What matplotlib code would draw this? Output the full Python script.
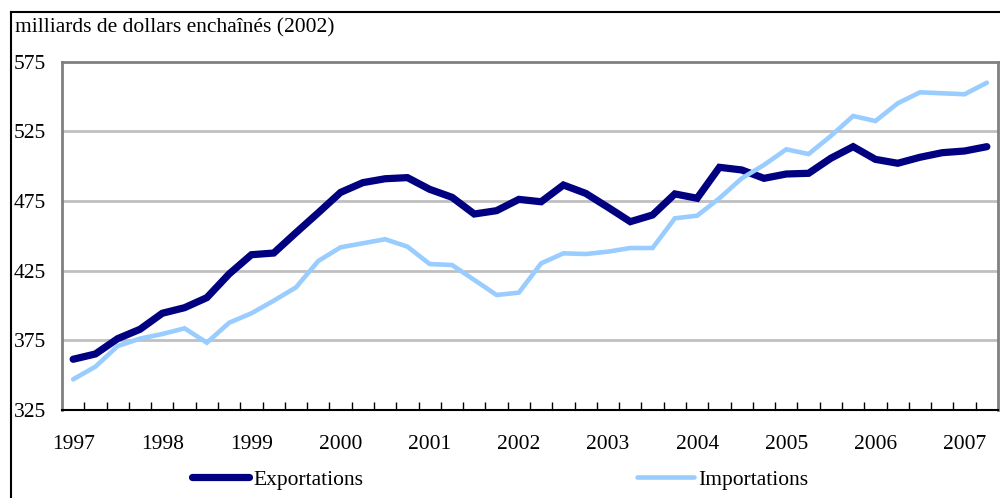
import numpy as np
import matplotlib
matplotlib.use("Agg")
import matplotlib.pyplot as plt
from matplotlib.lines import Line2D

plt.rcParams['font.family'] = ['Liberation Serif', 'DejaVu Serif']

# quarterly data, 1997Q1 - 2007Q2
years = list(range(1997, 2008))
exportations = [361.4, 365.2, 376.2, 382.9, 394.4, 398.4, 405.6, 422.6, 436.4, 437.6,
                452.2, 466.5, 481.1, 488.1, 490.9, 491.7, 483.3, 477.6, 465.6, 468.0,
                476.1, 474.4, 486.4, 480.4, 470.4, 460.1, 464.9, 480.0, 476.9, 499.1,
                497.2, 491.2, 494.3, 494.8, 505.6, 513.9, 504.8, 502.0, 506.3, 509.6,
                510.8, 513.9]
importations = [347.0, 356.1, 370.9, 376.2, 379.5, 383.6, 373.3, 387.6, 394.4, 403.4,
                413.0, 431.9, 441.7, 444.6, 447.5, 442.2, 429.7, 429.0, 418.3, 407.5,
                409.2, 430.2, 437.4, 436.9, 438.6, 441.2, 441.2, 462.5, 464.4, 476.9,
                491.2, 500.8, 512.0, 508.6, 521.6, 535.9, 532.3, 545.0, 552.9, 552.2,
                551.5, 559.8]
yticks = [325, 375, 425, 475, 525, 575]

fs = 15.5
x = np.arange(len(exportations))

fig = plt.figure(figsize=(10, 4.98), dpi=100)
ax = fig.add_axes([0.062, 0.1767, 0.936, 0.6998])

ax.plot(x, exportations, color='#000080', lw=5.2, solid_capstyle='round',
        solid_joinstyle='miter', label='Exportations', zorder=3)
ax.plot(x, importations, color='#99CCFF', lw=3.3, solid_capstyle='round',
        solid_joinstyle='miter', label='Importations', zorder=3)

ax.set_xlim(-0.5, len(x) - 0.5)
ax.set_ylim(325, 575)

ax.set_yticks(yticks)
ax.set_yticklabels([str(v) for v in yticks], ha='left')
ax.tick_params(axis='y', length=0, pad=34.5, labelsize=fs)
for g in yticks[1:-1]:
    ax.axhline(g, color='#c0c0c0', lw=2, zorder=1)

ax.set_xticks(x[::4])
ax.set_xticklabels([str(y) for y in years])
ax.tick_params(axis='x', which='major', length=0, pad=18, labelsize=fs)
ax.set_xticks(np.arange(0.5, len(x) - 0.5, 1), minor=True)
ax.tick_params(axis='x', which='minor', direction='in', length=6, width=1, color='black')

for s in ['left', 'top', 'right']:
    ax.spines[s].set_color('#808080')
    ax.spines[s].set_linewidth(2)
ax.spines['bottom'].set_color('black')
ax.spines['bottom'].set_linewidth(1.5)

fig.text(0.015, 0.944, 'milliards de dollars enchaînés (2002)', fontsize=fs,
         ha='left', va='center')

fig.legend(loc='center', bbox_to_anchor=(0.5, 0.037), ncol=2, frameon=False,
           fontsize=fs, handlelength=2.65, handletextpad=0.2, columnspacing=12.7)

# outer frame
fig.add_artist(Line2D([0.011, 1.0], [0.976, 0.976], color='black', lw=1.5))
fig.add_artist(Line2D([0.011, 0.011], [0.0, 0.976], color='black', lw=1.5))

fig.savefig('out.png', dpi=100)
